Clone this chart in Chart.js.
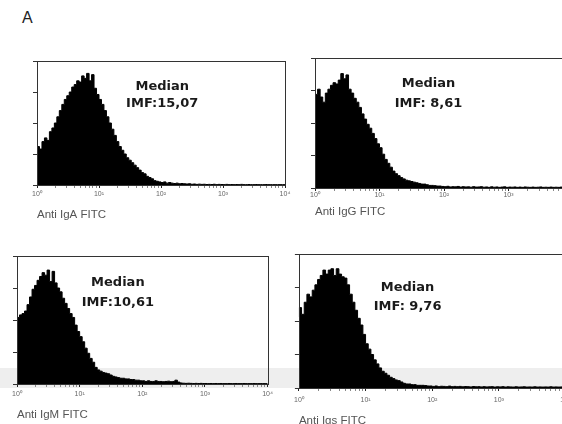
<!DOCTYPE html>
<html>
<head>
<meta charset="utf-8">
<script src="https://cdn.jsdelivr.net/npm/chart.js@4.4.1/dist/chart.umd.min.js"></script>
<style>
  html, body { margin: 0; padding: 0; }
  body { width: 562px; height: 424px; overflow: hidden; position: relative; background: #fff; font-family: "Liberation Sans", Arial, sans-serif; }
  .band { position: absolute; left: 0; top: 368px; width: 562px; height: 20px; background: #eeeeee; }
  #letter { position: absolute; left: 22px; top: 9px; font-size: 16px; color: #222; }
  canvas { position: absolute; }
</style>
</head>
<body>
<div class="band"></div>
<div id="letter">A</div>
<canvas id="c1"></canvas>
<canvas id="c2"></canvas>
<canvas id="c3"></canvas>
<canvas id="c4"></canvas>
<script>
// channel width in decades, 100 channels over 4 decades
const STEP = 0.04;
const decadeLabels = ['10⁰', '10¹', '10²', '10³', '10⁴'];

// relative counts per channel (% of full scale)
const igaCounts = [
  28, 31, 29, 35, 38, 36, 43, 46, 50, 55,
  60, 65, 69, 72, 75, 79, 81, 84, 83, 88,
  86, 90, 84, 89, 78, 73, 69, 65, 60, 55,
  50, 45, 40, 35, 31, 28, 25, 22, 20, 18,
  16, 14, 12, 10, 9, 7, 6, 5, 3.5, 3,
  2.5, 2, 2.5, 1.5, 2, 1.5, 1.2, 1.5, 1, 1.2,
  1, 0.8, 1, 0.6, 0.8, 0.5, 0.7, 0.5, 0.6, 0.4,
  0.5, 0.4, 0.6, 0.3, 0.5, 0.4, 0.3, 0.5, 0.3, 0.4,
  0.3, 0.4, 0.3, 0.5, 0.3, 0.3, 0.4, 0.3, 0.3, 0.4,
  0.3, 0.3, 0.3, 0.4, 0.3, 0.3, 0.3, 0.3, 0.3, 0.3
];
const iggCounts = [
  64, 72, 76, 70, 66, 73, 76, 79, 81, 80,
  83, 88, 84, 87, 76, 73, 69, 66, 62, 57,
  53, 49, 46, 42, 38, 34, 31, 26, 22, 19,
  16, 13, 11, 9.5, 8, 7, 6, 5.5, 5, 4.5,
  4, 3.5, 3, 3, 2.5, 2, 2, 1.8, 1.5, 1.5,
  1.2, 1, 1.3, 0.8, 1, 0.9, 1.2, 0.7, 1, 0.8,
  0.9, 0.6, 1, 0.7, 0.8, 1, 0.6, 0.8, 0.5, 0.9,
  0.6, 0.8, 0.5, 0.7, 0.9, 0.5, 0.7, 0.6, 0.8, 0.5,
  0.7, 0.5, 0.8, 0.6, 0.5, 0.7, 0.5, 0.6, 0.8, 0.5,
  0.6, 0.5, 0.7, 0.5, 0.6, 0.5, 0.7, 0.5, 0.6, 0.5
];
const igmCounts = [
  49, 52, 54, 55, 57, 62, 68, 74, 77, 81,
  84, 87, 85, 89, 80, 88, 79, 75, 72, 67,
  63, 59, 55, 52, 46, 41, 37, 33, 28, 24,
  20, 17, 13, 11, 10, 9, 8.5, 8, 7, 6,
  5.5, 5, 4.5, 4.5, 4, 4, 3.5, 3.5, 3, 3,
  2.5, 2.5, 2, 2.5, 2, 2, 2.5, 2, 2, 1.8,
  2, 2.2, 1.8, 2, 3, 1.5, 0.8, 0.6, 0.5, 0.6,
  0.5, 0.4, 0.5, 0.4, 0.5, 0.4, 0.4, 0.3, 0.4, 0.3,
  0.4, 0.3, 0.4, 0.3, 0.3, 0.4, 0.3, 0.3, 0.4, 0.3,
  0.3, 0.4, 0.3, 0.3, 0.3, 0.4, 0.3, 0.3, 0.3, 0.3
];
const igsCounts = [
  53, 60, 55, 64, 70, 68, 73, 77, 81, 84,
  88, 85, 88, 89, 84, 89, 85, 83, 82, 77,
  70, 64, 58, 52, 47, 40, 33, 29, 25, 21,
  18, 15, 12.5, 11, 9.5, 8, 7, 6, 5.5, 4.5,
  3.5, 3, 3, 2.5, 2.5, 2, 2, 2, 1.8, 1.5,
  1.5, 1.2, 1.5, 1, 1.3, 1.2, 1, 1.4, 1, 1.2,
  1, 1.2, 0.9, 1.1, 1, 0.8, 1.1, 0.9, 1, 0.8,
  1, 0.8, 0.9, 1, 0.7, 0.9, 0.8, 1, 0.7, 0.9,
  0.8, 0.7, 0.9, 0.7, 0.8, 0.9, 0.7, 0.8, 0.7, 0.9,
  0.7, 0.8, 0.7, 0.8, 0.7, 0.9, 0.7, 0.8, 0.7, 0.8
];

const axisTitles = ['Anti IgA FITC', 'Anti IgG FITC', 'Anti IgM FITC', 'Anti Igs FITC'];
const medianLabels = ['IMF:15,07', 'IMF: 8,61', 'IMF:10,61', 'IMF: 9,76'];

// placement of each panel on the page (canvas box + text offsets)
const panels = [
  {id: 'c1', counts: igaCounts, title: axisTitles[0], imf: medianLabels[0],
   left: 29, top: 57, width: 264, height: 168, tickPad: 2, titlePad: 3, noteX: 2.02, noteY: [79, 65.7]},
  {id: 'c2', counts: iggCounts, title: axisTitles[1], imf: medianLabels[1],
   left: 307, top: 54, width: 274, height: 174, tickPad: 0, titlePad: 9, noteX: 1.76, noteY: [80, 64.6]},
  {id: 'c3', counts: igmCounts, title: axisTitles[2], imf: medianLabels[2],
   left: 9, top: 252, width: 267, height: 172, tickPad: 3, titlePad: 2, noteX: 1.61, noteY: [79.3, 63.7]},
  {id: 'c4', counts: igsCounts, title: axisTitles[3], imf: medianLabels[3],
   left: 289, top: 250, width: 287, height: 178, tickPad: 5, titlePad: 0, noteX: 1.63, noteY: [75, 60.4]}
];

// decade ticks plus the log minor ticks in between
function decadeTicks() {
  let ticks = [];
  for (let d = 0; d < 4; d++) {
    ticks.push({value: d, major: true});
    for (let k = 2; k < 10; k++)
      ticks.push({value: d + Math.log10(k), major: false});
  }
  ticks.push({value: 4, major: true});
  return ticks;
}

// "Median / IMF" text inside each plot
const medianText = {
  id: 'medianText',
  afterDatasetsDraw(chart, args, opts) {
    const {ctx, scales: {x, y}} = chart;
    const px = x.getPixelForValue(opts.x);
    ctx.save();
    ctx.font = 'bold 13px "DejaVu Sans"';
    ctx.fillStyle = '#1a1a1a';
    ctx.textAlign = 'center';
    ctx.textBaseline = 'middle';
    ctx.fillText('Median', px, y.getPixelForValue(opts.y[0]));
    ctx.fillText(opts.text, px, y.getPixelForValue(opts.y[1]));
    ctx.restore();
  }
};

// box round the plot area
const frameBox = {
  id: 'frameBox',
  afterDraw(chart) {
    const {ctx, chartArea: a} = chart;
    ctx.save();
    ctx.strokeStyle = '#333';
    ctx.lineWidth = 1;
    ctx.strokeRect(Math.round(a.left) + 0.5, Math.round(a.top) + 0.5,
      Math.round(a.right - a.left), Math.round(a.bottom - a.top));
    ctx.restore();
  }
};

for (let p of panels) {
  let canvas = document.getElementById(p.id);
  canvas.width = p.width;
  canvas.height = p.height;
  canvas.style.left = p.left + 'px';
  canvas.style.top = p.top + 'px';

  let points = p.counts.map((v, i) => ({x: i * STEP, y: v}));
  points.push({x: 4, y: p.counts[p.counts.length - 1]});

  new Chart(canvas, {
    type: 'line',
    data: {
      datasets: [{
        data: points,
        stepped: 'after',
        fill: 'origin',
        backgroundColor: '#000',
        borderColor: '#000',
        borderWidth: 1,
        pointRadius: 0
      }]
    },
    options: {
      responsive: false,
      animation: false,
      devicePixelRatio: 1,
      layout: {padding: {top: 4, right: 8, left: 0, bottom: 0}},
      plugins: {
        legend: {display: false},
        tooltip: {enabled: false},
        medianText: {x: p.noteX, y: p.noteY, text: p.imf}
      },
      scales: {
        x: {
          type: 'linear',
          min: 0,
          max: 4,
          afterBuildTicks: (scale) => { scale.ticks = decadeTicks(); },
          afterFit: (scale) => { scale.height = 40; },
          border: {display: false},
          grid: {
            drawOnChartArea: false,
            tickLength: 3,
            tickColor: (c) => (c.tick && c.tick.major) ? '#222' : '#888'
          },
          ticks: {
            autoSkip: false,
            maxRotation: 0,
            padding: p.tickPad,
            color: '#666',
            font: {family: 'Liberation Sans', size: 7},
            callback: (v) => Number.isInteger(v) ? decadeLabels[v] : ''
          },
          title: {
            display: true,
            text: p.title,
            align: 'start',
            color: '#555',
            font: {family: 'Liberation Sans', size: 11.5},
            padding: {top: 0, bottom: p.titlePad}
          }
        },
        y: {
          min: 0,
          max: 100,
          afterBuildTicks: (scale) => {
            scale.ticks = [0, 25, 50, 75, 100].map(v => ({value: v}));
          },
          afterFit: (scale) => { scale.width = 8; },
          border: {display: false},
          grid: {drawOnChartArea: false, tickLength: 4, tickColor: '#333'},
          ticks: {display: false}
        }
      }
    },
    plugins: [medianText, frameBox]
  });
}
</script>
</body>
</html>
